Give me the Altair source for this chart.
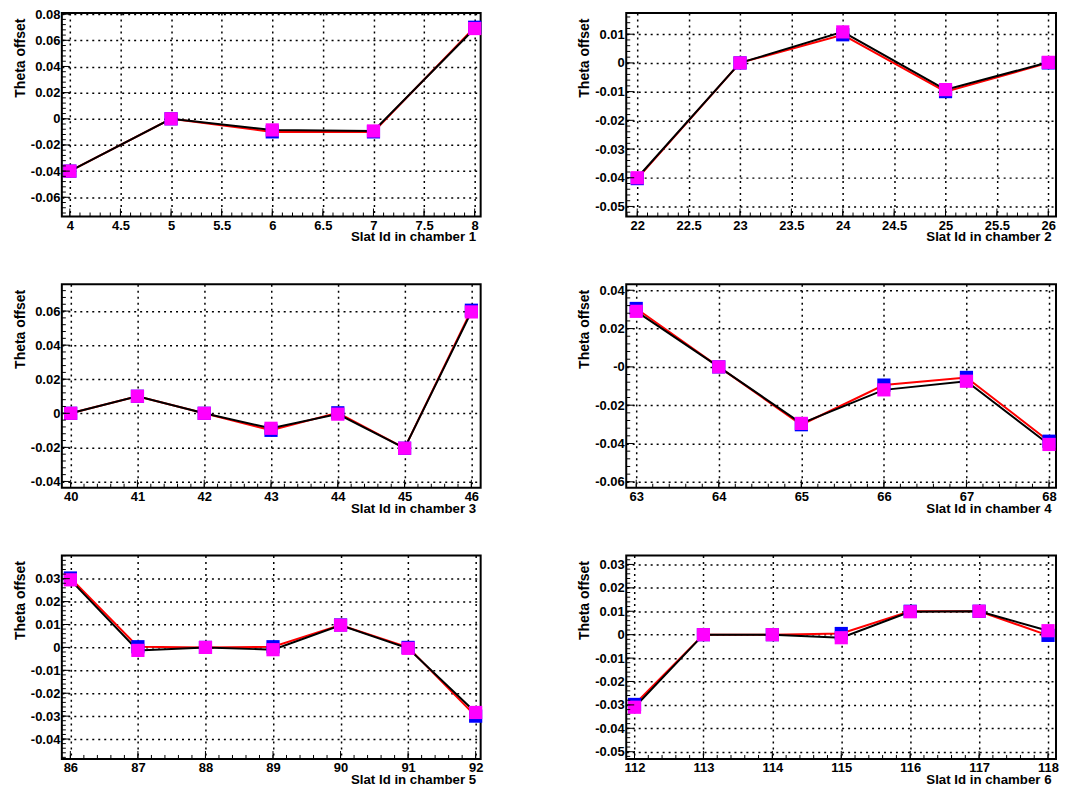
import altair as alt
import pandas as pd

FONT = "Liberation Sans"

# ---------------- data ----------------
SLAT_CH1 = [4, 5, 6, 7, 8]
BLUE_CH1 = [-0.0400, 0.0000, -0.0100, -0.0100, 0.0700]
MAG_CH1 = [-0.0400, 0.0000, -0.0085, -0.0093, 0.0690]

SLAT_CH2 = [22, 23, 24, 25, 26]
BLUE_CH2 = [-0.0403, 0.0000, 0.0098, -0.0100, 0.0000]
MAG_CH2 = [-0.0400, 0.0000, 0.0108, -0.0093, 0.0002]

SLAT_CH3 = [40, 41, 42, 43, 44, 45, 46]
BLUE_CH3 = [0.0000, 0.0100, 0.0000, -0.0100, 0.0003, -0.0205, 0.0605]
MAG_CH3 = [0.0000, 0.0100, 0.0000, -0.0088, -0.0005, -0.0205, 0.0595]

SLAT_CH4 = [63, 64, 65, 66, 67, 68]
BLUE_CH4 = [0.0305, 0.0000, -0.0302, -0.0095, -0.0055, -0.0388]
MAG_CH4 = [0.0290, 0.0000, -0.0295, -0.0120, -0.0075, -0.0405]

SLAT_CH5 = [86, 87, 88, 89, 90, 91, 92]
BLUE_CH5 = [0.0303, 0.0003, 0.0000, 0.0003, 0.0098, 0.0000, -0.0300]
MAG_CH5 = [0.0295, -0.0013, 0.0000, -0.0010, 0.0097, -0.0004, -0.0284]

SLAT_CH6 = [112, 113, 114, 115, 116, 117, 118]
BLUE_CH6 = [-0.0298, 0.0000, 0.0000, 0.0005, 0.0100, 0.0100, -0.0003]
MAG_CH6 = [-0.0310, 0.0000, 0.0000, -0.0013, 0.0098, 0.0100, 0.0017]

# axis ranges
XDOM_CH1 = [3.921, 8.059]
XDOM_CH2 = [21.893, 26.075]
XDOM_CH3 = [39.868, 46.139]
XDOM_CH4 = [62.879, 68.085]
XDOM_CH5 = [85.874, 92.074]
XDOM_CH6 = [111.88, 118.116]

YDOM_CH1 = [-0.0747, 0.0808]
YDOM_CH2 = [-0.0535, 0.01735]
YDOM_CH3 = [-0.0437, 0.0757]
YDOM_CH4 = [-0.0631, 0.0431]
YDOM_CH5 = [-0.0487, 0.0401]
YDOM_CH6 = [-0.0531, 0.0338]

# tick labels
XTICKS_CH1 = [4, 4.5, 5, 5.5, 6, 6.5, 7, 7.5, 8]
XTICKS_CH2 = [22, 22.5, 23, 23.5, 24, 24.5, 25, 25.5, 26]
XTICKS_CH3 = [40, 41, 42, 43, 44, 45, 46]
XTICKS_CH4 = [63, 64, 65, 66, 67, 68]
XTICKS_CH5 = [86, 87, 88, 89, 90, 91, 92]
XTICKS_CH6 = [112, 113, 114, 115, 116, 117, 118]

YTICKS_CH1 = [-0.06, -0.04, -0.02, 0, 0.02, 0.04, 0.06, 0.08]
YTICKS_CH2 = [-0.05, -0.04, -0.03, -0.02, -0.01, 0, 0.01]
YTICKS_CH3 = [-0.04, -0.02, 0, 0.02, 0.04, 0.06]
YTICKS_CH4 = [-0.06, -0.04, -0.02, 0, 0.02, 0.04]
YTICKS_CH5 = [-0.04, -0.03, -0.02, -0.01, 0, 0.01, 0.02, 0.03]
YTICKS_CH6 = [-0.05, -0.04, -0.03, -0.02, -0.01, 0, 0.01, 0.02, 0.03]

ZERO_LABEL_CH4 = "-0"


def minor_ticks(majors, dom, nsub=5):
    step = (majors[1] - majors[0]) / nsub
    out = []
    k = -nsub * 3
    while True:
        v = majors[0] + k * step
        if v > dom[1]:
            break
        if v >= dom[0]:
            out.append(round(v, 8))
        k += 1
    return out


def panel(ch, slat, blue, mag, xdom, ydom, xmaj, ymaj, width, height, zero_lbl="0"):
    df = pd.DataFrame({"slat": slat, "blue": blue, "mag": mag})
    xs = alt.Scale(domain=xdom, nice=False, zero=False)
    ys = alt.Scale(domain=ydom, nice=False, zero=False)

    common = dict(
        grid=True, gridColor="black", gridDash=[2, 4], gridWidth=1.5,
        ticks=False, domain=False,
        labelFont=FONT, labelFontWeight="bold", labelFontSize=13, labelColor="black",
        labelFlush=False, labelOverlap=False,
        titleFont=FONT, titleFontWeight="bold", titleColor="black",
    )
    xaxis = alt.Axis(
        values=xmaj, labelPadding=3,
        labelExpr="'' + datum.value",
        title=f"Slat Id in chamber {ch}", titleFontSize=13.3,
        titleAlign="right", titleBaseline="alphabetic", titleX=width - 5, titleY=24.5,
        **common,
    )
    yaxis = alt.Axis(
        values=ymaj, labelPadding=2,
        labelExpr=f"datum.value == 0 ? '{zero_lbl}' : '' + datum.value",
        title="Theta offset", titleFontSize=14, titleAngle=270,
        titleAlign="right", titleBaseline="alphabetic", titleX=-37.5, titleY=5,
        **common,
    )

    def X(f):
        return alt.X(f, type="quantitative", scale=xs, axis=xaxis)

    def Y(f):
        return alt.Y(f, type="quantitative", scale=ys, axis=yaxis)

    base = alt.Chart(df)
    red = base.mark_line(color="#ff0000", strokeWidth=2, clip=True).encode(x=X("slat"), y=Y("blue"))
    black = base.mark_line(color="black", strokeWidth=2, clip=True).encode(x=X("slat"), y=Y("mag"))
    bsq = base.mark_square(size=175, color="#0000ff", opacity=1).encode(x=X("slat"), y=Y("blue"))
    msq = base.mark_square(size=175, color="#ff00ff", opacity=1).encode(x=X("slat"), y=Y("mag"))

    ymaj_df = pd.DataFrame({"v": ymaj})
    ymin_df = pd.DataFrame({"v": minor_ticks(ymaj, ydom)})
    xmaj_df = pd.DataFrame({"v": xmaj})
    xmin_df = pd.DataFrame({"v": minor_ticks(xmaj, xdom)})

    def ytick(d, ln):
        return alt.Chart(d).mark_rule(color="black", strokeWidth=1).encode(
            y=Y("v"), x=alt.value(0), x2=alt.value(ln)
        )

    def xtick(d, ln):
        return alt.Chart(d).mark_rule(color="black", strokeWidth=1).encode(
            x=X("v"), y=alt.value(height), y2=alt.value(height - ln)
        )

    return alt.layer(
        red, black, bsq, msq,
        ytick(ymaj_df, 8), ytick(ymin_df, 4), xtick(xmaj_df, 8), xtick(xmin_df, 4),
    ).properties(width=width, height=height)


WL, WR, H = 420, 431, 204

panels = [
    panel(1, SLAT_CH1, BLUE_CH1, MAG_CH1, XDOM_CH1, YDOM_CH1, XTICKS_CH1, YTICKS_CH1, WL, H),
    panel(2, SLAT_CH2, BLUE_CH2, MAG_CH2, XDOM_CH2, YDOM_CH2, XTICKS_CH2, YTICKS_CH2, WR, H),
    panel(3, SLAT_CH3, BLUE_CH3, MAG_CH3, XDOM_CH3, YDOM_CH3, XTICKS_CH3, YTICKS_CH3, WL, H),
    panel(4, SLAT_CH4, BLUE_CH4, MAG_CH4, XDOM_CH4, YDOM_CH4, XTICKS_CH4, YTICKS_CH4, WR, H,
          zero_lbl=ZERO_LABEL_CH4),
    panel(5, SLAT_CH5, BLUE_CH5, MAG_CH5, XDOM_CH5, YDOM_CH5, XTICKS_CH5, YTICKS_CH5, WL, H),
    panel(6, SLAT_CH6, BLUE_CH6, MAG_CH6, XDOM_CH6, YDOM_CH6, XTICKS_CH6, YTICKS_CH6, WR, H),
]

chart = (
    alt.concat(*panels, columns=2, spacing={"row": 68, "column": 146}, bounds="flush")
    .properties(padding={"left": 4, "top": -2, "right": 0, "bottom": 0}, background="white")
    .configure_view(stroke="black", strokeWidth=2)
)

chart.save("out.html", embed_options={"renderer": "svg", "actions": False})
